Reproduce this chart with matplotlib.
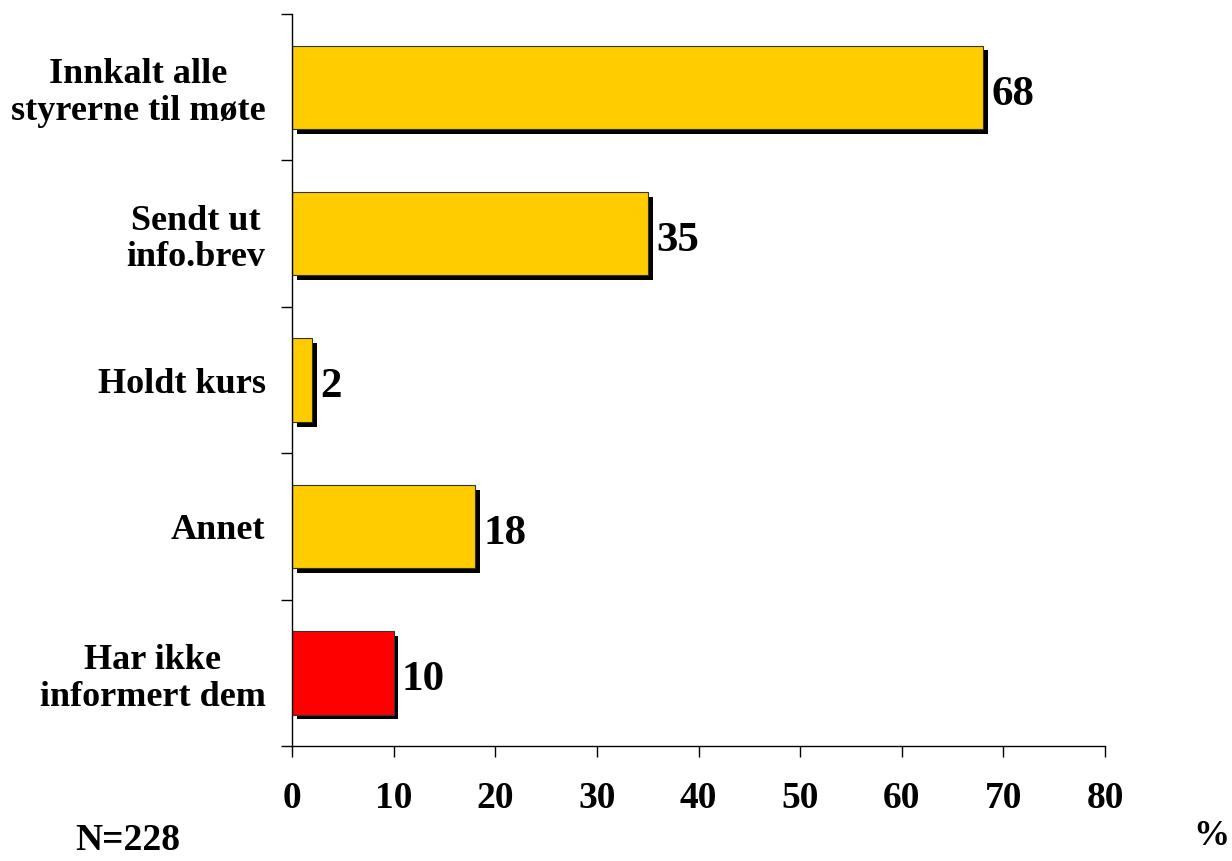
import matplotlib
matplotlib.use("Agg")
import matplotlib.pyplot as plt
import matplotlib.patheffects as pe

categories = ["Innkalt alle\nstyrerne til møte", "Sendt ut\ninfo.brev", "Holdt kurs",
              "Annet", "Har ikke\ninformert dem"]
values = [68, 35, 2, 18, 10]
colors = ["#FFCC00", "#FFCC00", "#FFCC00", "#FFCC00", "#FF0000"]
xticks = [0, 10, 20, 30, 40, 50, 60, 70, 80]

plt.rcParams['font.family'] = ['Liberation Serif', 'DejaVu Serif']
plt.rcParams['font.weight'] = 'bold'

fig = plt.figure(figsize=(12.32, 8.61), dpi=100)
ax = fig.add_axes([0.237, 0.1336, 0.66, 0.85])

ypos = list(range(len(categories)))
bars = ax.barh(ypos, values, height=0.57, color=colors, edgecolor="#333333", linewidth=0.8)
for b in bars:
    b.set_path_effects([pe.SimplePatchShadow(offset=(3.5, -3.5), shadow_rgbFace='black', alpha=1.0),
                        pe.Normal()])

for y, v in zip(ypos, values):
    ax.text(v + 0.8, y + 0.05, str(v), va='center', ha='left', fontsize=31, fontweight='bold')

ax.set_ylim(len(categories) - 0.5, -0.5)
ax.set_xlim(0, 80)
ax.set_xticks(xticks)
ax.set_xticklabels([str(t) for t in xticks], fontsize=27, fontweight='bold')
ax.tick_params(axis='x', length=8, width=1, pad=17, direction='out')

ax.set_yticks(ypos)
ax.set_yticklabels(categories, fontsize=26, fontweight='bold', multialignment='center',
                   linespacing=1.15)
ax.tick_params(axis='y', which='major', length=0, pad=19)
ax.set_yticks([i - 0.5 for i in range(len(categories) + 1)], minor=True)
ax.tick_params(axis='y', which='minor', length=8, width=1, direction='out')

for s in ['top', 'right']:
    ax.spines[s].set_visible(False)
for s in ['left', 'bottom']:
    ax.spines[s].set_linewidth(1)

fig.text(0.061, 0.003, "N=228", fontsize=27, fontweight='bold', ha='left', va='bottom')
fig.text(0.983, 0.019, "%", fontsize=26, fontweight='bold', ha='center', va='baseline')

fig.savefig("out.png", dpi=100)
